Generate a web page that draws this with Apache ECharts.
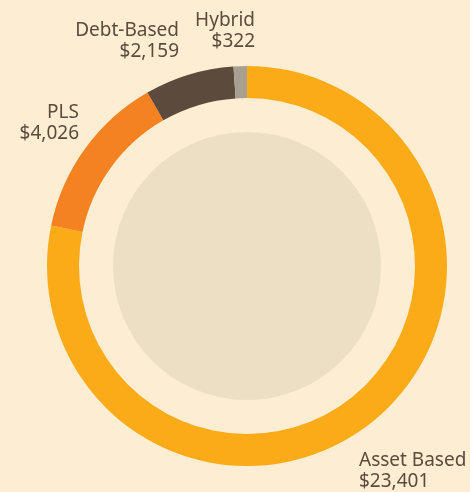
<!DOCTYPE html>
<html>
<head>
<meta charset="utf-8">
<style>
  html, body { margin: 0; padding: 0; background: #fdeed3; }
  #chart { width: 470px; height: 492px; }
</style>
<script src="https://cdn.jsdelivr.net/npm/echarts@6/dist/echarts.min.js"></script>
</head>
<body>
<div id="chart"></div>
<script>
// Segments, clockwise from 12 o'clock
const categories = ['Asset Based', 'PLS', 'Debt-Based', 'Hybrid'];
const amounts = [23401, 4026, 2159, 322];
const colors = ['#fbab18', '#f58220', '#5c4b3d', '#a79f8f'];

// Label anchor points (x, y, alignment) per segment
const labelSpots = [
  { x: 359, y: 450, align: 'left' },
  { x: 79, y: 102, align: 'right' },
  { x: 179, y: 20, align: 'right' },
  { x: 255, y: 10, align: 'right' }
];

const fmt = v => '$' + v.toLocaleString('en-US');

const chart = echarts.init(document.getElementById('chart'), null, { renderer: 'canvas' });
chart.setOption({
  backgroundColor: '#fdeed3',
  animation: false,
  series: [
    {
      type: 'pie',
      silent: true,
      center: [247, 266],
      radius: [0, 134],
      label: { show: false },
      labelLine: { show: false },
      itemStyle: { color: '#ecdfc4' },
      data: [{ value: 1, name: 'disc' }]
    },
    {
      type: 'pie',
      center: [247, 266],
      radius: [168, 200],
      startAngle: 90,
      clockwise: true,
      avoidLabelOverlap: false,
      itemStyle: { borderWidth: 0 },
      label: {
        show: true,
        position: 'outside',
        formatter: p => p.name + '\n' + fmt(p.value),
        color: '#5c4b3d',
        fontFamily: 'Noto Sans',
        fontSize: 19,
        lineHeight: 21
      },
      labelLine: { show: false },
      labelLayout: p => {
        const s = labelSpots[p.dataIndex];
        return { x: s.x, y: s.y, align: s.align, verticalAlign: 'top' };
      },
      data: categories.map((name, i) => ({
        name, value: amounts[i], itemStyle: { color: colors[i] }
      }))
    }
  ]
});
</script>
</body>
</html>
